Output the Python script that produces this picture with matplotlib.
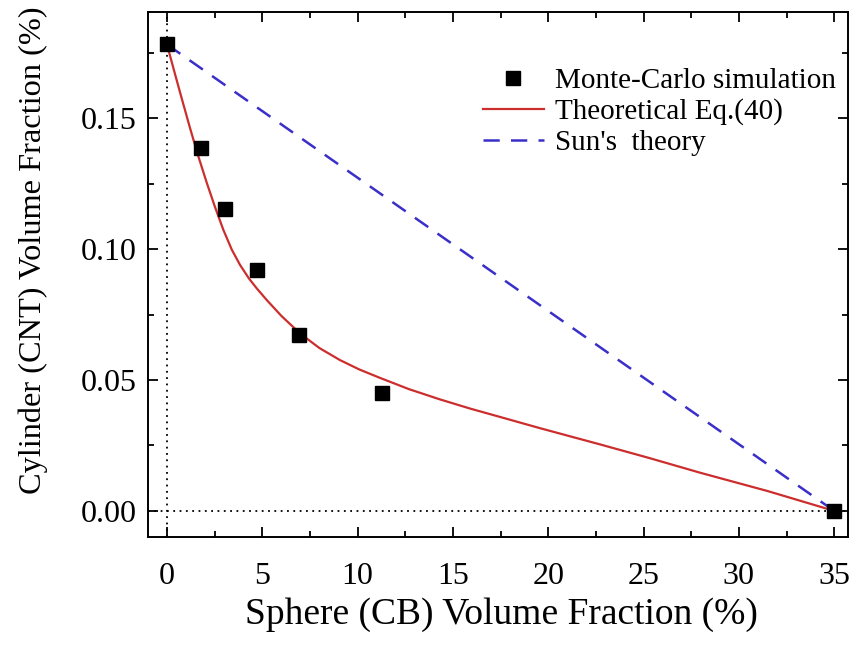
import matplotlib
matplotlib.use("Agg")
import matplotlib.pyplot as plt
from matplotlib.ticker import MultipleLocator, FormatStrFormatter

plt.rcParams['font.family'] = ['Liberation Serif', 'DejaVu Serif']

# Monte-Carlo points
mc_x = [0, 1.78, 3.04, 4.72, 6.93, 11.28, 35]
mc_y = [0.1782, 0.1385, 0.1153, 0.092, 0.0672, 0.045, 0.0]

# Theoretical Eq.(40)
th_x = [0, 0.35, 0.7, 1.2, 1.6, 2.08, 2.5, 2.95, 3.4, 3.83, 4.3, 4.71,
        5.23, 6.0, 6.98, 8.0, 9.08, 10.1, 11.18, 12.7, 14.32, 15.9,
        17.47, 19.57, 22.72, 25.3, 27.96, 31.5, 35]
th_y = [0.1782, 0.1688, 0.1595, 0.1465, 0.1365, 0.1255, 0.1165, 0.1075,
        0.0998, 0.0940, 0.0888, 0.0850, 0.0806, 0.0745, 0.0678, 0.0622,
        0.0576, 0.0540, 0.0508, 0.0465, 0.0426, 0.0391, 0.0359, 0.0316,
        0.0254, 0.0202, 0.0146, 0.0076, 0.0]

# Sun's theory: straight line
sun_x = [0, 35]
sun_y = [0.1782, 0.0]


def main():
    fig = plt.figure(figsize=(8.55, 6.46), dpi=100)
    ax = fig.add_axes([0.173, 0.169, 0.819, 0.812])

    ax.axvline(0, color='black', ls=(0, (1, 2.5)), lw=1.3, zorder=1)
    ax.axhline(0, color='black', ls=(0, (1, 2.5)), lw=1.3, zorder=1)

    ax.plot(mc_x, mc_y, 's', color='black', ms=10, ls='none',
            label='Monte-Carlo simulation', zorder=4)
    ax.plot(th_x, th_y, '-', color='#cc2e2e', lw=1.6,
            label='Theoretical Eq.(40)', zorder=3)
    ax.plot(sun_x, sun_y, '--', color='#3a2fc8', lw=1.8, dashes=(6.5, 4.5),
            label="Sun's  theory", zorder=2)

    ax.set_xlim(-1.0, 35.73)
    ax.set_ylim(-0.0099, 0.1905)
    ax.xaxis.set_major_locator(MultipleLocator(5))
    ax.xaxis.set_minor_locator(MultipleLocator(2.5))
    ax.yaxis.set_major_locator(MultipleLocator(0.05))
    ax.yaxis.set_minor_locator(MultipleLocator(0.025))
    ax.yaxis.set_major_formatter(FormatStrFormatter('%.2f'))

    ax.tick_params(which='both', direction='in', top=True, right=True,
                   labelsize=23, width=1.3)
    ax.tick_params(which='major', length=7)
    ax.tick_params(which='minor', length=4)
    ax.tick_params(axis='x', pad=18)
    ax.tick_params(axis='y', pad=8)
    for s in ax.spines.values():
        s.set_linewidth(1.4)

    ax.set_xlabel('Sphere (CB) Volume Fraction (%)', fontsize=27)
    ax.set_ylabel('Cylinder (CNT) Volume Fraction (%)', fontsize=23.3)
    ax.xaxis.set_label_coords(0.505, -0.116)
    ax.yaxis.set_label_coords(-0.143, 0.547)

    ax.legend(loc='upper right', bbox_to_anchor=(1.012, 0.934), frameon=False,
              fontsize=21, handlelength=2.1, handletextpad=0.38,
              labelspacing=0.15, borderaxespad=0.3)

    fig.savefig('out.png', dpi=100)


if __name__ == "__main__":
    main()
